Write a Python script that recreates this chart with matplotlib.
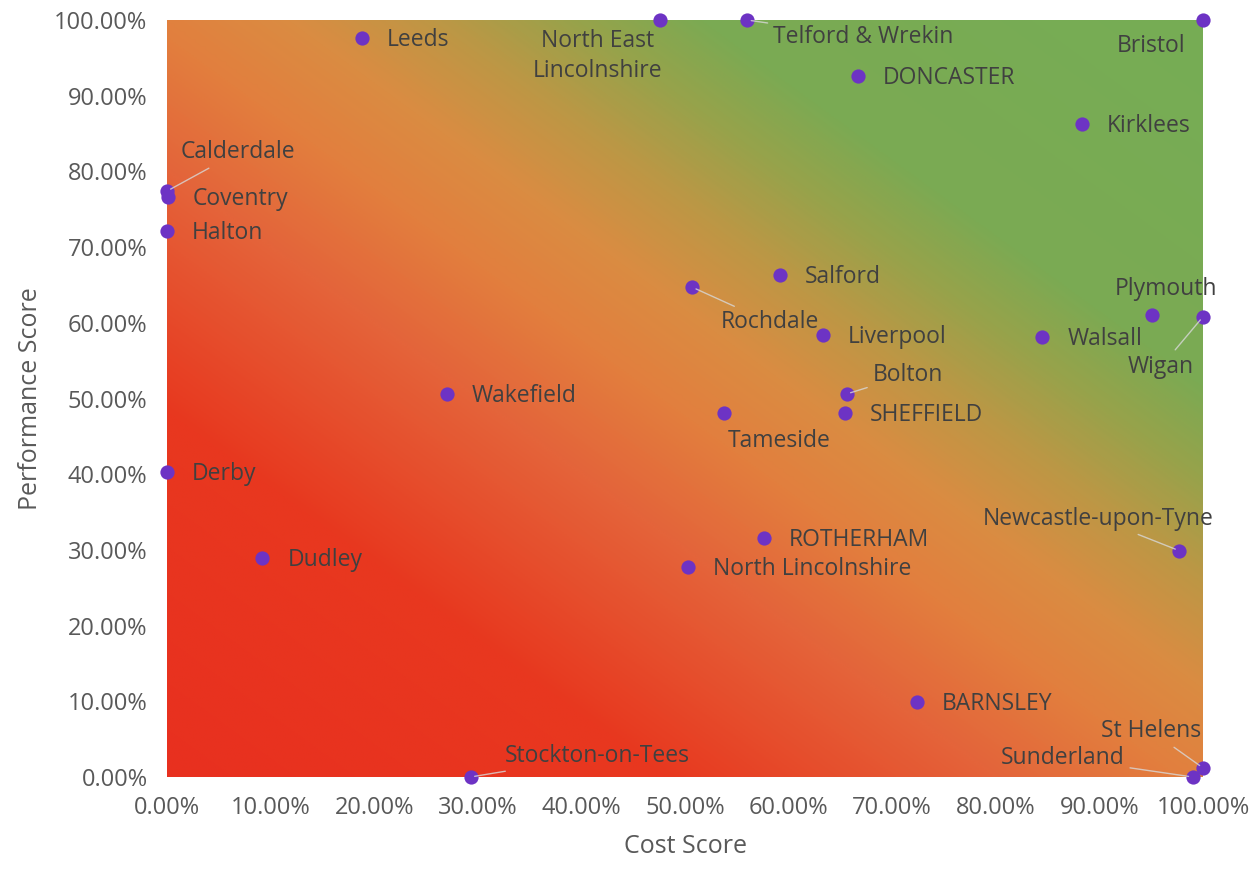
import numpy as np
import matplotlib
matplotlib.use("Agg")
import matplotlib.pyplot as plt
from matplotlib.colors import LinearSegmentedColormap

# council scores, in percent
councils = [
    "Leeds", "North East\nLincolnshire", "Telford & Wrekin", "Bristol", "DONCASTER",
    "Kirklees", "Calderdale", "Coventry", "Halton", "Salford", "Rochdale",
    "Liverpool", "Walsall", "Plymouth", "Wigan", "Wakefield", "Bolton",
    "SHEFFIELD", "Tameside", "Derby", "ROTHERHAM", "North Lincolnshire",
    "Dudley", "Newcastle-upon-Tyne", "BARNSLEY", "St Helens", "Sunderland",
    "Stockton-on-Tees",
]
cost_score = [
    18.8, 47.6, 56.0, 100.0, 66.7,
    88.3, 0.0, 0.1, 0.0, 59.2, 50.7,
    63.3, 84.5, 95.1, 100.0, 27.0, 65.6,
    65.4, 53.8, 0.0, 57.6, 50.3,
    9.2, 97.7, 72.4, 100.0, 99.0,
    29.3,
]
performance_score = [
    97.6, 100.0, 100.0, 100.0, 92.6,
    86.3, 77.4, 76.6, 72.1, 66.3, 64.7,
    58.4, 58.1, 61.0, 60.8, 50.6, 50.6,
    48.1, 48.1, 40.3, 31.6, 27.7,
    28.9, 29.9, 9.9, 1.2, 0.0,
    0.0,
]
x_ticks = list(range(0, 101, 10))
y_ticks = list(range(0, 101, 10))

# label placement: pixel offset from the marker, alignment, leader line
label_layout = {
    "North East\nLincolnshire": ((-63, -36), "center", False),
    "Telford & Wrekin": ((26, -17), "left", True),
    "Bristol": ((-52, -26), "center", False),
    "Calderdale": ((14, 39), "left", True),
    "Rochdale": ((28, -35), "left", True),
    "Plymouth": ((14, 26), "center", False),
    "Wigan": ((-42, -50), "center", True),
    "Bolton": ((26, 19), "left", True),
    "Tameside": ((3, -28), "left", False),
    "Newcastle-upon-Tyne": ((-81, 32), "center", True),
    "St Helens": ((-52, 37), "center", True),
    "Sunderland": ((-130, 19), "center", True),
    "Stockton-on-Tees": ((34, 21), "left", True),
}
default_layout = ((25, -2), "left", False)

FONT = "Open Sans"
plt.rcParams["font.family"] = [FONT, "DejaVu Sans"]

fig = plt.figure(figsize=(12.54, 8.69), dpi=100)
ax = fig.add_axes([167 / 1254, 1 - 777 / 869, (1203 - 167) / 1254, (777 - 20) / 869])

# diagonal red -> orange -> green background
bg = LinearSegmentedColormap.from_list("bg", [
    (0.00, "#e8301f"),
    (0.24, "#e8381f"),
    (0.40, "#e4643a"),
    (0.49, "#e27f3e"),
    (0.56, "#da8c42"),
    (0.63, "#bd9745"),
    (0.70, "#96a34b"),
    (0.76, "#7baa53"),
    (1.00, "#76ad55"),
])
gx, gy = np.meshgrid(np.linspace(0, 1, 400), np.linspace(0, 1, 400))
ax.imshow((gx + gy) / 2, cmap=bg, origin="lower", extent=[0, 100, 0, 100],
          aspect="auto", interpolation="bilinear", zorder=0, vmin=0, vmax=1)

ax.scatter(cost_score, performance_score, s=105, color="#6d33c4",
           zorder=3, clip_on=False, linewidths=0)

for name, cx, py in zip(councils, cost_score, performance_score):
    (dx, dy), ha, leader = label_layout.get(name, default_layout)
    arrow = None
    if leader:
        arrow = dict(arrowstyle="-", color="#d8d8d8", lw=1.0, alpha=0.8,
                     shrinkA=2, shrinkB=3)
    ax.annotate(name, (cx, py), xytext=(dx, dy), textcoords="offset pixels",
                ha=ha, va="center", fontsize=16.5, color="#404040",
                linespacing=1.3, arrowprops=arrow, zorder=4,
                annotation_clip=False)

ax.set_xlim(0, 100)
ax.set_ylim(0, 100)
ax.set_xticks(x_ticks)
ax.set_yticks(y_ticks)
ax.set_xticklabels([f"{t:.2f}%" for t in x_ticks])
ax.set_yticklabels([f"{t:.2f}%" for t in y_ticks])
ax.tick_params(length=0, labelsize=17, labelcolor="#595959", pad=14)
for s in ax.spines.values():
    s.set_visible(False)

ax.set_xlabel("Cost Score", fontsize=18, color="#595959", labelpad=10)
ax.set_ylabel("Performance Score", fontsize=18, color="#595959", labelpad=8)

fig.savefig("out.png", dpi=100)
